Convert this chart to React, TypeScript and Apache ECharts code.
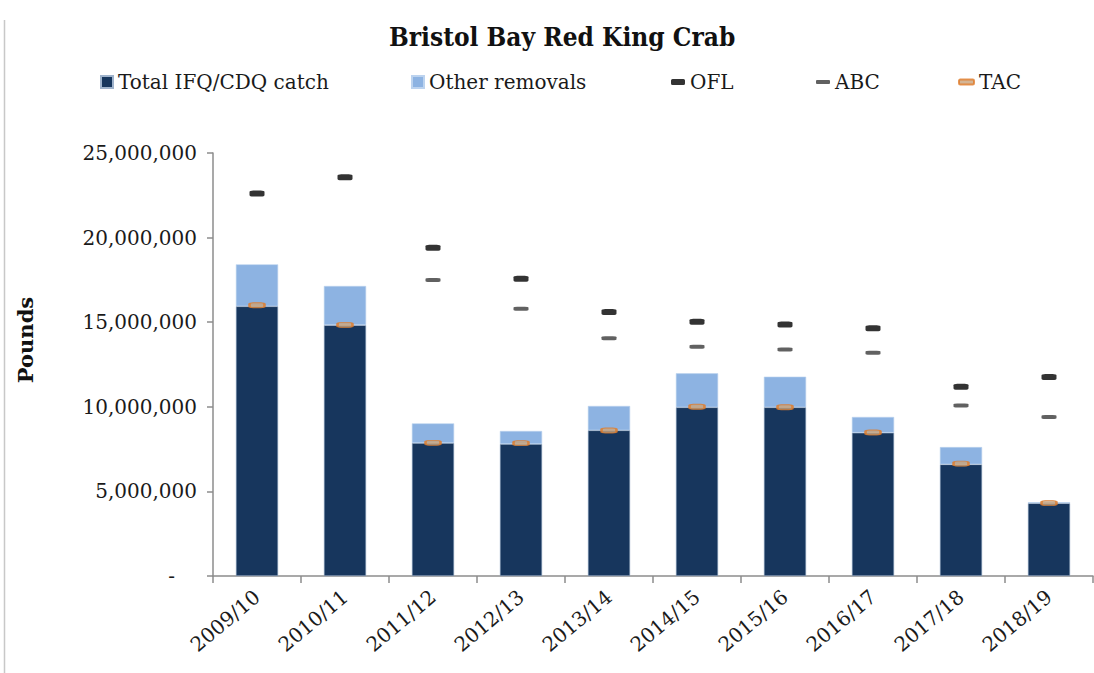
import React, { useEffect, useRef } from "react";
import * as echarts from "echarts";

const categories = ["2009/10", "2010/11", "2011/12", "2012/13", "2013/14", "2014/15", "2015/16", "2016/17", "2017/18", "2018/19"];
const catchIFQ = [15940000, 14830000, 7860000, 7800000, 8610000, 9970000, 9970000, 8470000, 6600000, 4300000];
const otherRemovals = [2480000, 2310000, 1160000, 770000, 1440000, 2010000, 1810000, 930000, 1020000, 60000];
const ofl = [22600000, 23560000, 19400000, 17570000, 15600000, 15030000, 14870000, 14640000, 11190000, 11760000];
const abc = [null, null, 17490000, 15800000, 14050000, 13550000, 13380000, 13200000, 10070000, 9400000];
const tac = [16000000, 14840000, 7870000, 7850000, 8600000, 10000000, 9970000, 8480000, 6640000, 4310000];
const yTicks = [0, 5000000, 10000000, 15000000, 20000000, 25000000];

const SERIF = "DejaVu Serif";
const SERIF_C = "DejaVu Serif Condensed";

export default function App() {
  const ref = useRef<HTMLDivElement>(null);
  useEffect(() => {
    document.body.style.margin = "0";
    const chart = echarts.init(ref.current!, null, { renderer: "svg" });
    const legendText = { fontFamily: SERIF, fontSize: 20, color: "#1a1a1a" };
    const mkLegend = (name: string, left: number, w: number, h: number, icon: string) => ({
      data: [name],
      left,
      top: 72,
      itemWidth: w,
      itemHeight: h,
      icon,
      itemGap: 0,
      padding: 0,
      selectedMode: false,
      textStyle: legendText,
    });
    chart.setOption({
      animation: false,
      backgroundColor: "#ffffff",
      title: {
        text: "Bristol Bay Red King Crab",
        left: 389,
        top: 24,
        padding: 0,
        textStyle: { fontFamily: SERIF_C, fontWeight: "bold", fontSize: 26, color: "#111111" },
      },
      legend: [
        mkLegend("Total IFQ/CDQ catch", 100, 12, 12, "rect"),
        mkLegend("Other removals", 411, 12, 12, "rect"),
        mkLegend("OFL", 671, 14, 6, "roundRect"),
        mkLegend("ABC", 816, 14, 4, "roundRect"),
        mkLegend("TAC", 958, 15, 5, "roundRect"),
      ],
      grid: { left: 213, right: 1, top: 153, bottom: 97, containLabel: false },
      xAxis: {
        type: "category",
        data: categories,
        axisLine: { lineStyle: { color: "#8c8c8c", width: 1.5 } },
        axisTick: { show: true, length: 7, lineStyle: { color: "#8c8c8c", width: 1.5 } },
        axisLabel: {
          rotate: 40,
          margin: 18,
          fontFamily: SERIF,
          fontSize: 20,
          color: "#1a1a1a",
        },
      },
      yAxis: {
        type: "value",
        min: 0,
        max: yTicks[yTicks.length - 1],
        interval: yTicks[1] - yTicks[0],
        splitLine: { show: false },
        axisLine: { show: true, lineStyle: { color: "#8c8c8c", width: 1.5 } },
        axisTick: { show: true, length: 6, lineStyle: { color: "#8c8c8c", width: 1.5 } },
        axisLabel: {
          margin: 16,
          fontFamily: SERIF,
          fontSize: 20,
          color: "#1a1a1a",
          formatter: (v: number) => (v === 0 ? "{d|-}" : v.toLocaleString("en-US")),
          rich: { d: { fontFamily: SERIF, fontSize: 20, color: "#1a1a1a", padding: [0, 22, 0, 0] } },
        },
      },
      series: [
        {
          name: "Total IFQ/CDQ catch",
          type: "bar",
          stack: "c",
          barWidth: "48%",
          data: catchIFQ,
          itemStyle: { color: "#17365d", borderColor: "#9fb3cc", borderWidth: 0.6 },
        },
        {
          name: "Other removals",
          type: "bar",
          stack: "c",
          data: otherRemovals,
          itemStyle: { color: "#8db3e2", borderColor: "#bcd3ef", borderWidth: 0.6 },
        },
        {
          name: "OFL",
          type: "scatter",
          symbol: "roundRect",
          symbolSize: [15, 6],
          data: ofl,
          itemStyle: { color: "#000000" },
          z: 5,
        },
        {
          name: "ABC",
          type: "scatter",
          symbol: "roundRect",
          symbolSize: [15, 4],
          data: abc,
          itemStyle: { color: "#3a3a3a" },
          z: 5,
        },
        {
          name: "TAC",
          type: "scatter",
          symbol: "roundRect",
          symbolSize: [15, 5],
          data: tac,
          itemStyle: { color: "#c9a27a", borderColor: "#e07b28", borderWidth: 1.5 },
          z: 6,
        },
      ],
      graphic: [
        {
          type: "line",
          shape: { x1: 4.5, y1: 20, x2: 4.5, y2: 673 },
          style: { stroke: "#c8c8c8", lineWidth: 1.5 },
          silent: true,
        },
        {
          type: "text",
          x: 25,
          y: 340,
          rotation: Math.PI / 2,
          style: {
            text: "Pounds",
            fontFamily: SERIF,
            fontWeight: "bold",
            fontSize: 21,
            fill: "#111111",
            align: "center",
            verticalAlign: "middle",
          },
          silent: true,
        },
      ],
    });
    return () => chart.dispose();
  }, []);
  return <div ref={ref} style={{ position: "absolute", left: 0, top: 0, width: 1094, height: 673 }} />;
}
